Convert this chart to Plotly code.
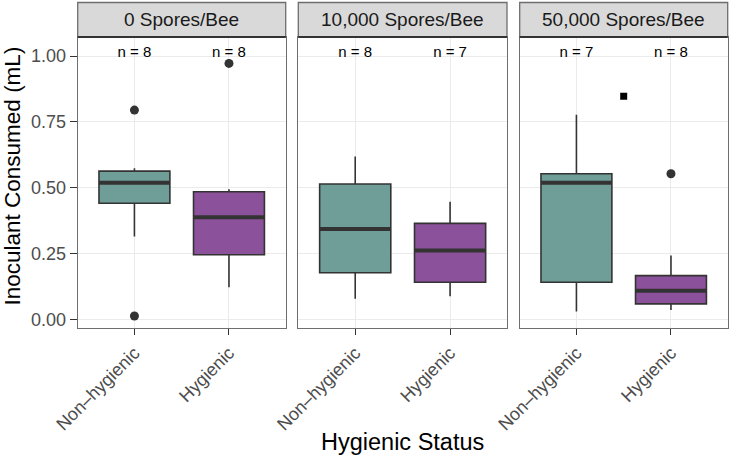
import plotly.graph_objects as go

# ---------------- data ----------------
panels = ["0 Spores/Bee", "10,000 Spores/Bee", "50,000 Spores/Bee"]
categories = ["Non–hygienic", "Hygienic"]
y_ticks = [0.0, 0.25, 0.5, 0.75, 1.0]
y_ticklabels = ["0.00", "0.25", "0.50", "0.75", "1.00"]

# per panel: [Non-hygienic, Hygienic]
q1_vals = [[0.442, 0.247], [0.179, 0.143], [0.143, 0.061]]
median_vals = [[0.520, 0.389], [0.345, 0.263], [0.520, 0.111]]
q3_vals = [[0.564, 0.486], [0.515, 0.366], [0.554, 0.168]]
lower_vals = [[0.316, 0.124], [0.080, 0.090], [0.032, 0.038]]
upper_vals = [[0.575, 0.495], [0.619, 0.448], [0.777, 0.244]]
outliers = [[[0.795, 0.015], [0.972]], [[], []], [[], [0.554]]]
n_counts = [[8, 8], [8, 7], [7, 8]]
n_label_y = 1.01
extra_square = {"panel": 2, "x": 1.5, "y": 0.848}

# ---------------- style ----------------
W, H = 730, 460
fills = ["#6f9d98", "#8c519b"]
dark = "#333333"
panel_px = [(77.7, 285.7), (298.3, 507.0), (519.7, 727.7)]
plot_top_px, plot_bot_px, strip_top_px = 37.0, 328.3, 2.5
font = "Liberation Sans, Arial, Helvetica, sans-serif"
box_w = 0.75

fig = go.Figure()
for p in range(3):
    xa = "x" if p == 0 else f"x{p+1}"
    ya = "y" if p == 0 else f"y{p+1}"
    for c in range(2):
        xpos = c + 1
        fig.add_trace(go.Box(
            x=[xpos], q1=[q1_vals[p][c]], median=[median_vals[p][c]], q3=[q3_vals[p][c]],
            lowerfence=[lower_vals[p][c]], upperfence=[upper_vals[p][c]],
            width=box_w, fillcolor=fills[c], line=dict(color=dark, width=1.6),
            whiskerwidth=0, boxpoints=False, xaxis=xa, yaxis=ya, showlegend=False,
            hoverinfo="skip"))
        # thick median line (ggplot fatten)
        fig.add_trace(go.Scatter(
            x=[xpos - box_w / 2, xpos + box_w / 2],
            y=[median_vals[p][c]] * 2, mode="lines",
            line=dict(color=dark, width=4), xaxis=xa, yaxis=ya,
            showlegend=False, hoverinfo="skip"))
        if outliers[p][c]:
            fig.add_trace(go.Scatter(
                x=[xpos] * len(outliers[p][c]), y=outliers[p][c], mode="markers",
                marker=dict(color=dark, size=9), xaxis=xa, yaxis=ya,
                showlegend=False, hoverinfo="skip"))
    # n labels
    fig.add_trace(go.Scatter(
        x=[1, 2], y=[n_label_y] * 2, mode="text",
        text=[f"n = {n}" for n in n_counts[p]],
        textfont=dict(family=font, size=15, color="#000000"),
        textposition="middle center", xaxis=xa, yaxis=ya,
        showlegend=False, hoverinfo="skip"))
    if extra_square["panel"] == p:
        fig.add_trace(go.Scatter(
            x=[extra_square["x"]], y=[extra_square["y"]], mode="markers",
            marker=dict(color="#000000", size=7, symbol="square"),
            xaxis=xa, yaxis=ya, showlegend=False, hoverinfo="skip"))

y_dom = [(H - plot_bot_px) / H, (H - plot_top_px) / H]
layout = dict(
    width=W, height=H, margin=dict(l=0, r=0, t=0, b=0, autoexpand=False),
    paper_bgcolor="white", plot_bgcolor="white", showlegend=False,
    font=dict(family=font),
)
for p in range(3):
    sx = "" if p == 0 else str(p + 1)
    dom = [panel_px[p][0] / W, panel_px[p][1] / W]
    layout["xaxis" + sx] = dict(
        domain=dom, range=[0.4, 2.6], tickvals=[1, 2], ticktext=categories,
        tickangle=-45, ticks="outside", ticklen=6, tickwidth=1.3, tickcolor=dark,
        tickfont=dict(family=font, size=18, color="#4d4d4d"),
        showgrid=True, gridcolor="#ebebeb", gridwidth=1.3,
        showline=True, mirror=True, linecolor="#6e6e6e", linewidth=1.3,
        zeroline=False, anchor="y" + sx, fixedrange=True, automargin=False)
    ydict = dict(
        domain=y_dom, range=[-0.0316, 1.072], tickvals=y_ticks,
        ticktext=y_ticklabels, showgrid=True, gridcolor="#ebebeb", gridwidth=1.3,
        showline=True, mirror=True, linecolor="#6e6e6e", linewidth=1.3,
        zeroline=False, anchor="x" + sx, fixedrange=True, automargin=False)
    if p == 0:
        ydict.update(ticks="outside", ticklen=7, tickwidth=1.3, tickcolor=dark,
                     tickfont=dict(family=font, size=18, color="#4d4d4d"))
    else:
        ydict.update(showticklabels=False, ticks="")
    layout["yaxis" + sx] = ydict

shapes = []
annotations = []
for p in range(3):
    x0, x1 = panel_px[p][0] / W, panel_px[p][1] / W
    y0, y1 = (H - plot_top_px) / H, (H - strip_top_px) / H
    shapes.append(dict(type="rect", xref="paper", yref="paper", x0=x0, x1=x1,
                       y0=y0, y1=y1, fillcolor="#d9d9d9",
                       line=dict(color="#6e6e6e", width=1.3), layer="above"))
    shapes.append(dict(type="line", xref="paper", yref="paper", x0=x0, x1=x1,
                       y0=y0, y1=y0, line=dict(color=dark, width=2), layer="above"))
    annotations.append(dict(text=panels[p], xref="paper", yref="paper",
                            x=(x0 + x1) / 2, y=(y0 + y1) / 2, showarrow=False,
                            xanchor="center", yanchor="middle",
                            font=dict(family=font, size=19, color="#1a1a1a")))
annotations.append(dict(text="Hygienic Status", xref="paper", yref="paper",
                        x=(panel_px[0][0] + panel_px[2][1]) / 2 / W,
                        y=(H - 442) / H, showarrow=False, xanchor="center",
                        yanchor="middle",
                        font=dict(family=font, size=23.5, color="#000000")))
annotations.append(dict(text="Inoculant Consumed (mL)", xref="paper", yref="paper",
                        x=11.5 / W, y=(H - 176) / H, showarrow=False,
                        xanchor="center", yanchor="middle", textangle=-90,
                        font=dict(family=font, size=22.5, color="#000000")))
layout["shapes"] = shapes
layout["annotations"] = annotations
fig.update_layout(**layout)
fig.write_html("out.html")
